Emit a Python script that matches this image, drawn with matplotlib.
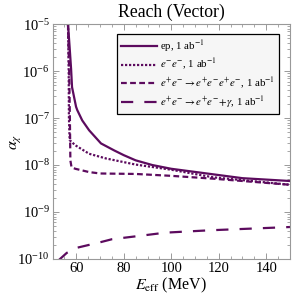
"""Reach (Vector) plot: alpha_chi sensitivity vs effective energy."""

import matplotlib

matplotlib.use("Agg")
import matplotlib.pyplot as plt
import numpy as np
from matplotlib.ticker import FixedLocator, LogLocator, MultipleLocator, NullFormatter

# --- data ---
ep_x = [56.5, 57.2, 57.8, 58.2, 59.9, 60.4, 62.5, 65.4, 70.4, 76.0, 80.0, 85.0,
        92.0, 100.0, 115.0, 130.0, 150.0]
ep_log = [-5.0, -5.5, -5.95, -6.34, -6.76, -6.83, -7.05, -7.26, -7.54, -7.69,
          -7.79, -7.9, -8.0, -8.08, -8.18, -8.28, -8.34]

ee_x = [56.5, 56.8, 56.9, 57.2, 59.6, 65.4, 72.5, 85.0, 100.0, 117.5, 150.0]
ee_log = [-5.0, -6.0, -7.0, -7.47, -7.58, -7.76, -7.86, -7.99, -8.1, -8.26, -8.42]

eeee_x = [56.5, 57.0, 57.3, 57.5, 58.0, 59.6, 65.4, 70.0, 85.0, 100.0, 117.5, 150.0]
eeee_log = [-5.0, -6.0, -7.0, -7.9, -8.05, -8.08, -8.15, -8.18, -8.19, -8.23,
            -8.29, -8.42]

eeg_x = [52.5, 56.0, 60.4, 70.4, 75.0, 88.0, 97.5, 116.0, 150.0]
eeg_log = [-10.03, -9.87, -9.76, -9.64, -9.58, -9.5, -9.44, -9.39, -9.32]

x_ticks = [60, 80, 100, 120, 140]

LABELS = [
    r"ep, 1 ab$^{-1}$",
    r"$e^{-}e^{-}$, 1 ab$^{-1}$",
    r"$e^{+}e^{-}\rightarrow e^{+}e^{-}e^{+}e^{-}$, 1 ab$^{-1}$",
    r"$e^{+}e^{-}\rightarrow e^{+}e^{-}\!+\!\gamma$, 1 ab$^{-1}$",
]
STYLES = ["-", (0, (1.0, 0.8)), (0, (2.6, 1.5)), (0, (5.5, 5.0))]

PURPLE = "#5c0b5e"
FRAME = "#999999"

plt.rcParams["font.family"] = ["Liberation Serif", "DejaVu Serif"]
plt.rcParams["mathtext.fontset"] = "stix"

fig = plt.figure(figsize=(2.92, 2.98), dpi=100)
ax = fig.add_axes([0.18, 0.131, 0.813, 0.788])

curves = [(ep_x, ep_log), (ee_x, ee_log), (eeee_x, eeee_log), (eeg_x, eeg_log)]
for (xs, logs), ls, label in zip(curves, STYLES, LABELS):
    ax.plot(xs, 10.0 ** np.array(logs), color=PURPLE, linestyle=ls,
            linewidth=1.6, label=label)

ax.set_yscale("log")
ax.set_xlim(50, 150)
ax.set_ylim(1e-10, 1e-5)
ax.xaxis.set_major_locator(FixedLocator(x_ticks))
ax.xaxis.set_minor_locator(MultipleLocator(5))
ax.yaxis.set_major_locator(LogLocator(base=10, numticks=10))
ax.yaxis.set_minor_locator(LogLocator(base=10, subs=np.arange(2, 10), numticks=20))
ax.yaxis.set_minor_formatter(NullFormatter())

for spine in ax.spines.values():
    spine.set_color(FRAME)
    spine.set_linewidth(0.8)
ax.tick_params(which="both", direction="in", top=True, right=True,
               color=FRAME, labelsize=10.5, labelcolor="black")
ax.tick_params(which="major", length=4.5, width=0.7, pad=2)
ax.tick_params(which="minor", length=2.5, width=0.6)

ax.set_title("Reach (Vector)", fontsize=12.8, pad=5)
ax.set_xlabel(r"$E_{\rm eff}$ (MeV)", fontsize=11.5, labelpad=1)
ax.set_ylabel(r"$\alpha_\chi$", fontsize=11.5, labelpad=-4)

leg = ax.legend(loc="upper left", bbox_to_anchor=(0.27, 0.96), fontsize=7.8,
                frameon=True, fancybox=False, handlelength=3.3,
                handletextpad=0.3, labelspacing=0.3, borderpad=0.4,
                borderaxespad=0.0)
leg.get_frame().set_edgecolor("black")
leg.get_frame().set_facecolor("#f6f6f6")
leg.get_frame().set_linewidth(0.9)
leg.get_frame().set_alpha(1.0)

fig.savefig("out.png", dpi=100)
